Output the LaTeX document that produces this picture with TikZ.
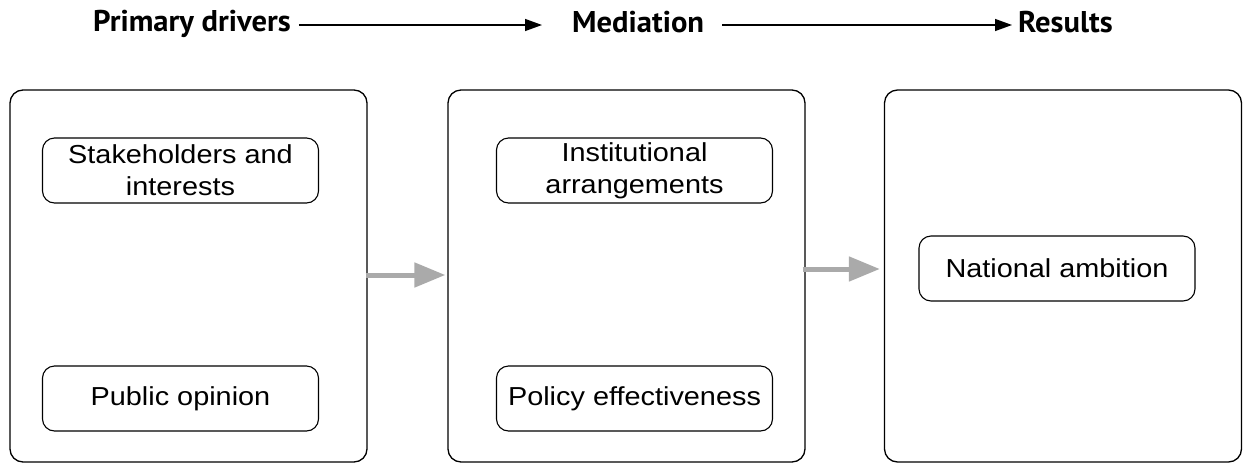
\documentclass[tikz,border=0pt]{standalone}
\usepackage{fontspec}
\setmainfont{Liberation Sans}[FakeStretch=1.11]
\newfontfamily\hdrfont{PT Sans}[FakeStretch=1.02]
\usetikzlibrary{arrows.meta,calc}
\definecolor{arrowgray}{RGB}{170,170,170}
\tikzset{
  bigbox/.style={draw=black, line width=1.3pt, rounded corners=13pt, minimum width=357pt, minimum height=372pt, inner sep=0pt},
  itembox/.style={draw=black, line width=1.1pt, rounded corners=12pt, minimum width=276pt, minimum height=65pt, align=center, inner sep=0pt, font=\fontsize{26}{32}\selectfont},
  hdr/.style={anchor=base west, inner sep=0pt, font=\hdrfont\bfseries\fontsize{30}{34}\selectfont},
  hdrarrow/.style={draw=black, line width=1.4pt, -{Triangle[length=17pt,width=12pt]}},
  grayarrow/.style={draw=arrowgray, line width=5pt, -{Triangle[length=31pt,width=24pt]}}
}
\begin{document}
\begin{tikzpicture}[x=1pt,y=-1pt]
\useasboundingbox (0,0) rectangle (1243,464);
% headers
\node[hdr] (pd) at (93,31) {Primary drivers};
\node[hdr] (med) at (572,32) {Mediation};
\node[hdr] (res) at (1018,32) {Results};
\draw[hdrarrow] ([shift={(8,-6)}]pd.base east) -- ([shift={(-30,-7)}]med.base west);
\draw[hdrarrow] ([shift={(18,-7)}]med.base east) -- ([shift={(-6,-7)}]res.base west);
% big boxes
\node[bigbox] (b1) at (188.5,276) {};
\node[bigbox] (b2) at (626.5,276) {};
\node[bigbox] (b3) at (1063,276) {};
% items
\node[itembox] (s1) at (180.5,170.5) {Stakeholders and\\interests};
\node[itembox] (s2) at (180.5,398.5) {Public opinion};
\node[itembox] (m1) at (634.5,170.5) {Institutional\\arrangements};
\node[itembox] (m2) at (634.5,398.5) {Policy effectiveness};
\node[itembox] (r1) at (1057,268.5) {National ambition};
% gray arrows
\draw[grayarrow] ([shift={(-2,-1)}]b1.east) -- ([shift={(-2,-1)}]b2.west);
\draw[grayarrow] ([shift={(-3,-7)}]b2.east) -- ([shift={(-4,-7)}]b3.west);
\end{tikzpicture}
\end{document}
